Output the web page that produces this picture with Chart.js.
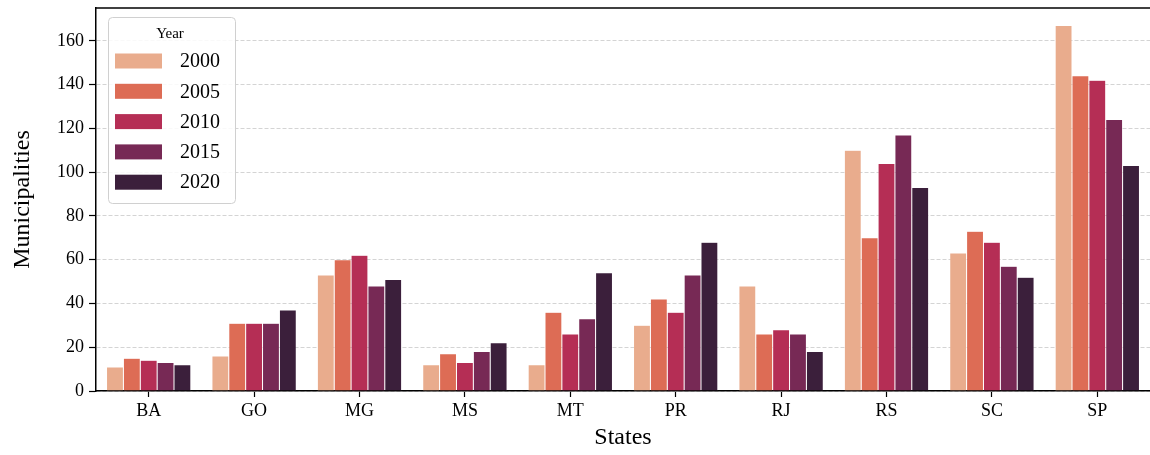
<!DOCTYPE html>
<html><head><meta charset="utf-8">
<script src="https://cdn.jsdelivr.net/npm/chart.js@4/dist/chart.umd.min.js"></script>
<style>html,body{margin:0;padding:0;background:#fff}#wrap{width:1150px;height:455px}</style>
</head><body><div id="wrap"><canvas id="c" width="1150" height="455"></canvas></div>
<script>
const states = ["BA","GO","MG","MS","MT","PR","RJ","RS","SC","SP"];
const years = ["2000","2005","2010","2015","2020"];
const y2000 = [11,16,53,12,12,30,48,110,63,167];
const y2005 = [15,31,60,17,36,42,26,70,73,144];
const y2010 = [14,31,62,13,26,36,28,104,68,142];
const y2015 = [13,31,48,18,33,53,26,117,57,124];
const y2020 = [12,37,51,22,54,68,18,93,52,103];
const colors = ["#E9AC8D","#DD6C55","#B52E55","#772955","#3B1F3B"];
const series = [y2000,y2005,y2010,y2015,y2020];
const FONT = "'Liberation Serif', 'DejaVu Serif', serif";

const legendPlugin = {
  id:'customLegend',
  afterDraw(chart){
    const ctx = chart.ctx;
    ctx.save();
    const a = chart.chartArea;
    ctx.strokeStyle='#000'; ctx.lineWidth=1.5;
    ctx.beginPath(); ctx.moveTo(a.left,a.top); ctx.lineTo(a.right,a.top); ctx.stroke();
    const x=108,y=17,w=127,h=186,r=4;
    ctx.fillStyle='rgba(255,255,255,0.85)';
    ctx.strokeStyle='#d0d0d0'; ctx.lineWidth=1;
    ctx.beginPath();
    ctx.roundRect(x+0.5,y+0.5,w,h,r);
    ctx.fill(); ctx.stroke();
    ctx.fillStyle='#000';
    ctx.font = "15px "+FONT;
    ctx.textAlign='center'; ctx.textBaseline='middle';
    ctx.fillText("Year", 170, 34);
    ctx.font = "20px "+FONT;
    ctx.textAlign='left';
    chart.data.datasets.forEach((ds,i)=>{
      const cy = 61 + i*30.3;
      ctx.fillStyle = ds.backgroundColor;
      ctx.fillRect(115, cy-7.5, 47, 15);
      ctx.fillStyle='#000';
      ctx.fillText(ds.label, 180, cy+1);
    });
    ctx.restore();
  }
};

new Chart(document.getElementById('c'), {
  type:'bar',
  data:{
    labels: states,
    datasets: years.map((yr,i)=>({
      label: yr,
      data: series[i],
      backgroundColor: colors[i],
      borderColor: 'rgba(255,255,255,0.35)',
      borderWidth: 0.5,
      categoryPercentage: 0.8,
      barPercentage: 1.0
    }))
  },
  options:{
    responsive:false,
    animation:false,
    layout:{padding:{top:8,right:0,left:0,bottom:0}},
    plugins:{legend:{display:false},tooltip:{enabled:false}},
    scales:{
      x:{
        grid:{display:true, offset:false, drawOnChartArea:false, drawTicks:true, tickLength:6, tickColor:'#000', tickWidth:1.2},
        border:{color:'#000', width:1.5},
        ticks:{color:'#000', font:{family:FONT,size:18}, padding:3},
        title:{display:true, text:'States', color:'#000', font:{family:FONT,size:24}, padding:{top:0,bottom:3}},
        afterFit(s){ s.height = 64; s.paddingLeft = 0; s.paddingRight = 0; }
      },
      y:{
        min:0, max:175,
        afterBuildTicks(axis){ axis.ticks = axis.ticks.filter(t=>t.value%20===0); },
        grid:{color:'#d4d4d4', lineWidth:1, tickLength:7, tickColor:'#000', tickWidth:1.2, drawTicks:true, tickBorderDash:[]},
        border:{color:'#000', width:1.5, dash:[4,2]},
        ticks:{color:'#000', font:{family:FONT,size:18}, padding:5, stepSize:20},
        title:{display:true, text:'Municipalities', color:'#000', font:{family:FONT,size:24}, padding:{top:8,bottom:0}},
        afterFit(s){ s.width = 96; s.paddingTop = 0; s.paddingBottom = 0; }
      }
    }
  },
  plugins:[legendPlugin]
});
</script></body></html>
